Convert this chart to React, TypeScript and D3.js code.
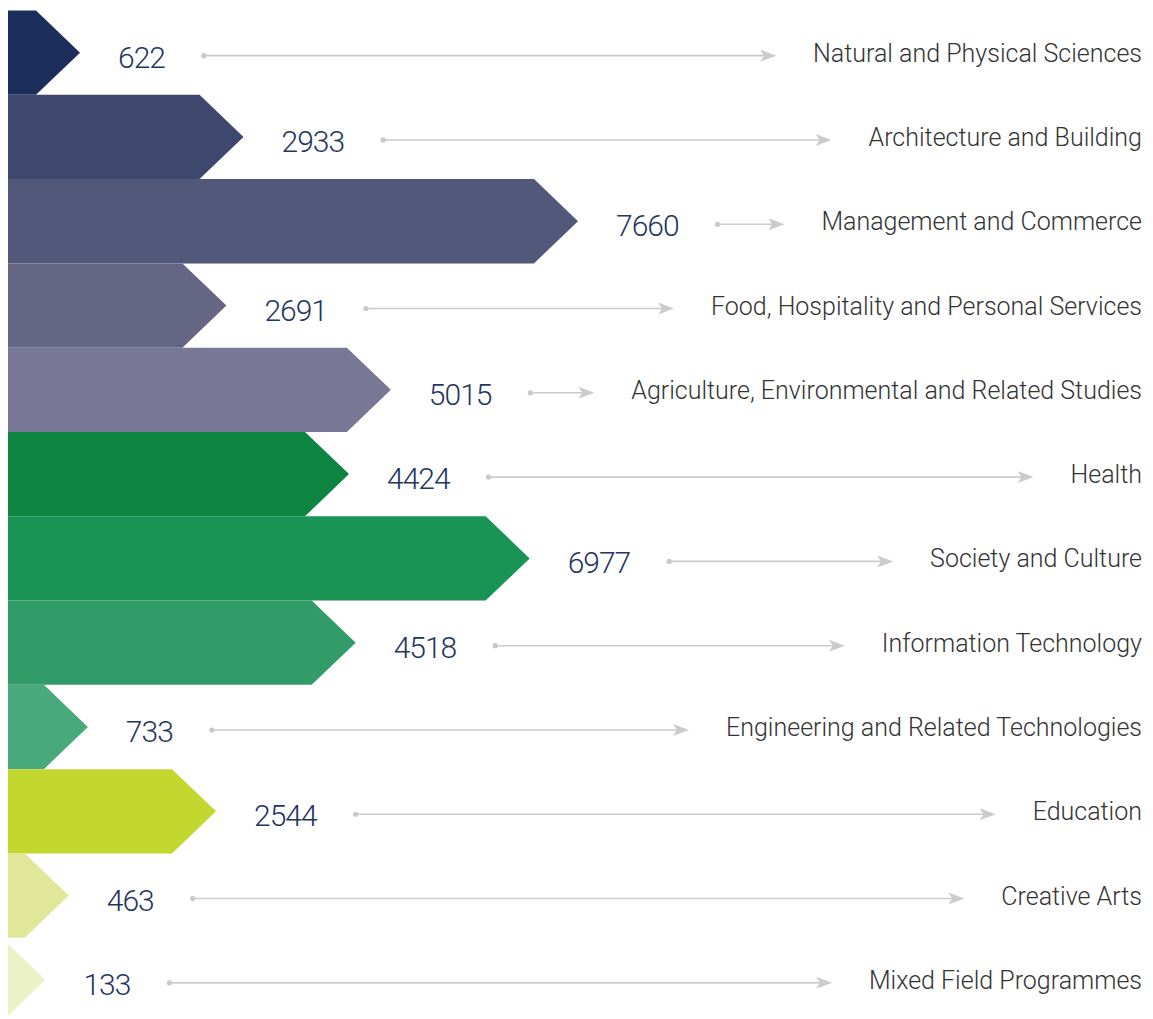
import { useEffect, useRef } from "react"
import * as d3 from "d3"

const categories = [
  "Natural and Physical Sciences",
  "Architecture and Building",
  "Management and Commerce",
  "Food, Hospitality and Personal Services",
  "Agriculture, Environmental and Related Studies",
  "Health",
  "Society and Culture",
  "Information Technology",
  "Engineering and Related Technologies",
  "Education",
  "Creative Arts",
  "Mixed Field Programmes"
]
const values = [622, 2933, 7660, 2691, 5015, 4424, 6977, 4518, 733, 2544, 463, 133]
const colors = [
  "#1b2d5b", "#3e476d", "#51587a", "#646684", "#787896",
  "#0d8540", "#1a9454", "#319c67", "#48aa7c", "#c3d82e",
  "#e0e799", "#ecf2c8"
]

const W = 1153
const H = 1019

export default function App() {
  const ref = useRef<SVGSVGElement>(null)

  useEffect(() => {
    if (!ref.current) return
    const svg = d3.select(ref.current)
    svg.selectAll("*").remove()

    const left = 8
    const labelRight = 1142
    const depth = 44

    const y = d3.scaleBand().domain(categories).range([10.5, 1022]).padding(0)
    const x = d3.scaleLinear().domain([0, 7660]).range([28, 570])

    svg.append("defs").append("clipPath").attr("id", "barclip")
      .append("rect").attr("x", 0).attr("y", 0).attr("width", W).attr("height", H)

    const g = svg.append("g").attr("transform", `translate(${left},0)`)

    categories.forEach((cat, i) => {
      const v = values[i]
      const y0 = y(cat)!
      const y1 = y0 + y.bandwidth()
      const mid = (y0 + y1) / 2
      const tip = x(v)
      const back = tip - depth

      g.append("path")
        .attr("clip-path", "url(#barclip)")
        .attr("d", `M${Math.min(0, back)},${y0}H${back}L${tip},${mid}L${back},${y1}H${Math.min(0, back)}Z`)
        .attr("fill", colors[i])

      const num = svg.append("text")
        .attr("x", left + tip + 38)
        .attr("y", mid + 15)
        .attr("font-family", "Roboto, sans-serif")
        .attr("font-weight", 300)
        .attr("font-size", 30)
        .attr("letter-spacing", "-1px")
        .attr("fill", "#1f3562")
        .text(String(v))
      const numEnd = left + tip + 38 + (num.node() as SVGTextElement).getComputedTextLength()

      const label = svg.append("text")
        .attr("x", labelRight)
        .attr("y", mid + 9)
        .attr("text-anchor", "end")
        .attr("font-family", "Roboto, sans-serif")
        .attr("font-weight", 300)
        .attr("font-size", 25)
        .attr("fill", "#333333")
        .text(cat)
      const labelStart = labelRight - (label.node() as SVGTextElement).getComputedTextLength()

      const ly = mid + 3
      const x0 = numEnd + 39
      const x1 = labelStart - 37
      svg.append("circle").attr("cx", x0).attr("cy", ly).attr("r", 2.6).attr("fill", "#c8c8c8")
      svg.append("line")
        .attr("x1", x0).attr("x2", x1 - 10)
        .attr("y1", ly).attr("y2", ly)
        .attr("stroke", "#cbcbcb").attr("stroke-width", 1.6)
      svg.append("path")
        .attr("d", `M${x1},${ly}L${x1 - 16},${ly - 6}L${x1 - 12},${ly}L${x1 - 16},${ly + 6}Z`)
        .attr("fill", "#cbcbcb")
    })
  }, [])

  return (
    <svg
      ref={ref}
      width={W}
      height={H}
      style={{ position: "absolute", left: 0, top: 0, background: "#ffffff" }}
    />
  )
}
